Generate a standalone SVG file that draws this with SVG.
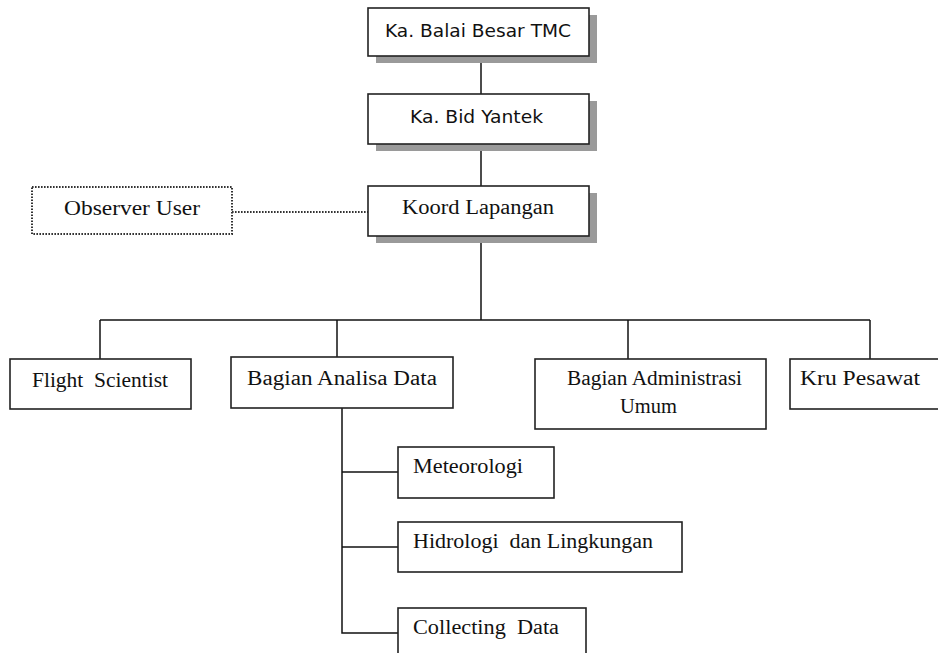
<svg xmlns="http://www.w3.org/2000/svg" width="938" height="653" viewBox="0 0 938 653">
<style>
.box{fill:#fff;stroke:#222;stroke-width:1.6}
.shadow{fill:#9a9a9a}
.dot{fill:#fff;stroke:#333;stroke-width:2;stroke-dasharray:1.6 1.4}
.ln{stroke:#111;stroke-width:1.5;fill:none}
.dl{stroke:#333;stroke-width:2;stroke-dasharray:1.6 1.4;fill:none}
.sans{font-family:"DejaVu Sans","Liberation Sans",sans-serif;font-size:17px;fill:#111}
.serif{font-family:"Liberation Serif","DejaVu Serif",serif;font-size:20px;fill:#111}
</style>
<rect width="938" height="653" fill="#fff"/>
<g id="connectors">
<line class="ln" x1="481" y1="56" x2="481" y2="94"/>
<line class="ln" x1="481" y1="144" x2="481" y2="186"/>
<line class="ln" x1="481" y1="236" x2="481" y2="320"/>
<line class="ln" x1="100" y1="320" x2="870" y2="320"/>
<line class="ln" x1="100" y1="320" x2="100" y2="359"/>
<line class="ln" x1="337" y1="320" x2="337" y2="357"/>
<line class="ln" x1="628" y1="320" x2="628" y2="359"/>
<line class="ln" x1="870" y1="320" x2="870" y2="359"/>
<line class="dl" x1="232" y1="212" x2="368" y2="212"/>
<polyline class="ln" points="342,408 342,633 398,633"/>
<line class="ln" x1="342" y1="472" x2="398" y2="472"/>
<line class="ln" x1="342" y1="547" x2="398" y2="547"/>
</g>
<g id="ka-balai">
<rect class="shadow" x="376" y="15" width="221" height="48"/>
<rect class="box" x="368" y="8" width="221" height="48"/>
<text class="sans" x="385" y="37" textLength="186" lengthAdjust="spacingAndGlyphs">Ka. Balai Besar TMC</text>
</g>
<g id="ka-bid">
<rect class="shadow" x="376" y="101" width="221" height="50"/>
<rect class="box" x="368" y="94" width="221" height="50"/>
<text class="sans" x="410" y="123" textLength="133" lengthAdjust="spacingAndGlyphs">Ka. Bid Yantek</text>
</g>
<g id="koord">
<rect class="shadow" x="376" y="193" width="221" height="50"/>
<rect class="box" x="368" y="186" width="221" height="50"/>
<text class="serif" x="402" y="214" textLength="152" lengthAdjust="spacingAndGlyphs">Koord Lapangan</text>
</g>
<g id="observer">
<rect class="dot" x="32" y="187" width="200" height="47"/>
<text class="serif" x="64" y="215" textLength="136" lengthAdjust="spacingAndGlyphs">Observer User</text>
</g>
<g id="flight">
<rect class="box" x="10" y="359" width="181" height="50"/>
<text class="serif" x="32" y="387" textLength="136" lengthAdjust="spacingAndGlyphs" xml:space="preserve">Flight  Scientist</text>
</g>
<g id="analisa">
<rect class="box" x="231" y="357" width="222" height="51"/>
<text class="serif" x="247" y="385" textLength="190" lengthAdjust="spacingAndGlyphs">Bagian Analisa Data</text>
</g>
<g id="administrasi">
<rect class="box" x="535" y="359" width="231" height="70"/>
<text class="serif" x="567" y="385" textLength="175" lengthAdjust="spacingAndGlyphs">Bagian Administrasi</text>
<text class="serif" x="620" y="413" textLength="57" lengthAdjust="spacingAndGlyphs">Umum</text>
</g>
<g id="kru">
<rect class="box" x="790" y="359" width="160" height="50"/>
<text class="serif" x="800" y="385" textLength="120" lengthAdjust="spacingAndGlyphs">Kru Pesawat</text>
</g>
<g id="meteorologi">
<rect class="box" x="398" y="447" width="156" height="51"/>
<text class="serif" x="413" y="473" textLength="110" lengthAdjust="spacingAndGlyphs">Meteorologi</text>
</g>
<g id="hidrologi">
<rect class="box" x="398" y="522" width="284" height="50"/>
<text class="serif" x="413" y="548" textLength="240" lengthAdjust="spacingAndGlyphs" xml:space="preserve">Hidrologi  dan Lingkungan</text>
</g>
<g id="collecting">
<rect class="box" x="398" y="608" width="188" height="60"/>
<text class="serif" x="413" y="634" textLength="146" lengthAdjust="spacingAndGlyphs" xml:space="preserve">Collecting  Data</text>
</g>
</svg>
